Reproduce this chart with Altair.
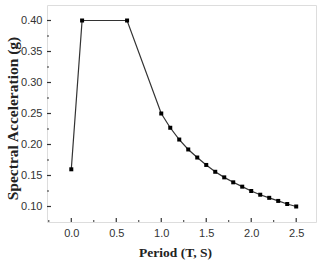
import altair as alt
import pandas as pd

period = [0.0, 0.12, 0.62, 1.0, 1.1, 1.2, 1.3, 1.4, 1.5, 1.6, 1.7, 1.8, 1.9, 2.0, 2.1, 2.2, 2.3, 2.4, 2.5]
sa = [0.16, 0.40, 0.40, 0.25, 0.227, 0.208, 0.192, 0.179, 0.167, 0.156, 0.147, 0.139, 0.132, 0.125, 0.119, 0.114, 0.109, 0.104, 0.100]

x_major = [0.0, 0.5, 1.0, 1.5, 2.0, 2.5]
x_minor = [-0.25, 0.25, 0.75, 1.25, 1.75, 2.25]
y_major = [0.10, 0.15, 0.20, 0.25, 0.30, 0.35, 0.40]
y_minor = [0.125, 0.175, 0.225, 0.275, 0.325, 0.375]

W, H = 269, 217
xdom = [-0.27, 2.72]
ydom = [0.075, 0.425]

df = pd.DataFrame({"T": period, "Sa": sa})
xs = alt.Scale(domain=xdom, nice=False, zero=False)
ys = alt.Scale(domain=ydom, nice=False, zero=False)

xaxis = alt.Axis(values=x_major, format=".1f", ticks=False, domain=False, grid=False,
                 labelFont="Liberation Sans", labelFontSize=11, labelColor="#333",
                 labelOverlap=False, labelPadding=5, title="Period (T, S)",
                 titleFont="Liberation Serif", titleFontSize=13.5, titleFontWeight="bold",
                 titleColor="#222", titlePadding=7, titleX=128)
yaxis = alt.Axis(values=y_major, format=".2f", ticks=False, domain=False, grid=False,
                 labelFont="Liberation Sans", labelFontSize=11, labelColor="#333",
                 labelOverlap=False, labelPadding=5, title="Spectral Acceleration (g)",
                 titleFont="Liberation Serif", titleFontSize=15.5, titleFontWeight="bold",
                 titleColor="#222", titlePadding=0, titleY=113)

line = alt.Chart(df).mark_line(color="#333", strokeWidth=1.2).encode(
    x=alt.X("T:Q", scale=xs, axis=xaxis),
    y=alt.Y("Sa:Q", scale=ys, axis=yaxis),
)
pts = alt.Chart(df).mark_square(color="black", size=16, opacity=1).encode(
    x=alt.X("T:Q", scale=xs, axis=xaxis), y=alt.Y("Sa:Q", scale=ys, axis=yaxis)
)

xmaj = alt.Chart(pd.DataFrame({"v": x_major})).mark_rule(color="#333", strokeWidth=1.2).encode(
    x=alt.X("v:Q", scale=xs, axis=xaxis), y=alt.value(H), y2=alt.value(H - 4))
xmin = alt.Chart(pd.DataFrame({"v": x_minor})).mark_rule(color="#333", strokeWidth=1).encode(
    x=alt.X("v:Q", scale=xs, axis=xaxis), y=alt.value(H), y2=alt.value(H - 2))
ymaj = alt.Chart(pd.DataFrame({"v": y_major})).mark_rule(color="#333", strokeWidth=1.2).encode(
    y=alt.Y("v:Q", scale=ys, axis=yaxis), x=alt.value(0), x2=alt.value(4))
ymin = alt.Chart(pd.DataFrame({"v": y_minor})).mark_rule(color="#333", strokeWidth=1).encode(
    y=alt.Y("v:Q", scale=ys, axis=yaxis), x=alt.value(0), x2=alt.value(2))

chart = alt.layer(line, pts, xmaj, xmin, ymaj, ymin).properties(
    width=W, height=H,
    autosize=alt.AutoSizeParams(type="none"),
    padding={"left": 47, "top": 5, "right": 3, "bottom": 38},
).configure_view(stroke="#444", strokeWidth=1.5).configure(background="white")

chart.save("out.html", embed_options={"renderer": "svg", "actions": False})
